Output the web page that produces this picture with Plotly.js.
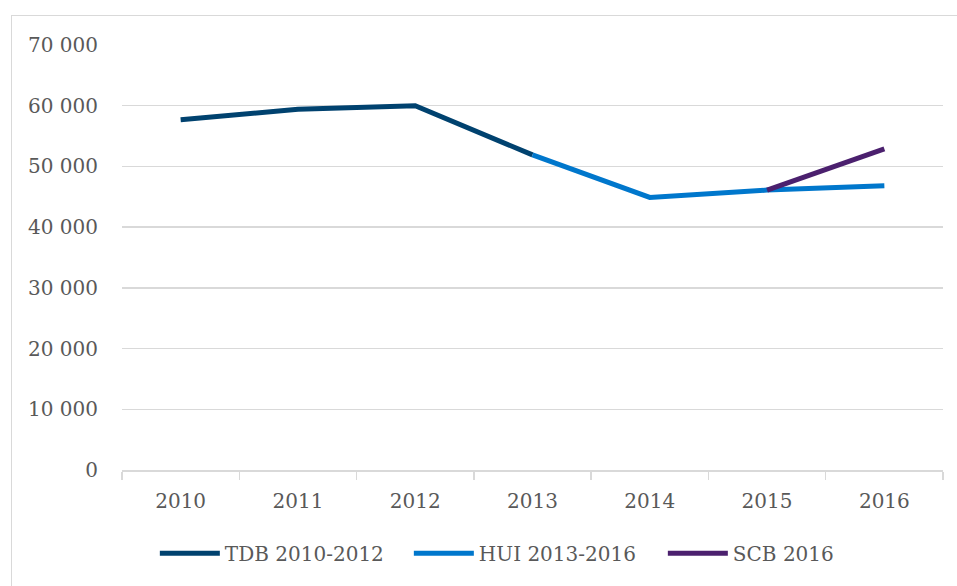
<!DOCTYPE html>
<html><head><meta charset="utf-8">
<script src="https://cdn.plot.ly/plotly-3.0.1.min.js"></script>
<style>
html,body{margin:0;padding:0;background:#fff;}
#wrap{position:relative;width:957px;height:586px;}
#chart{position:absolute;left:0;top:0;width:957px;height:586px;}
#frame{position:absolute;left:11px;top:15px;width:960px;height:600px;border:1.5px solid #d9d9d9;pointer-events:none;}
</style></head>
<body><div id="wrap"><div id="chart"></div><div id="frame"></div></div>
<script>
const years = ['2010','2011','2012','2013','2014','2015','2016'];
const tdbYears = ['2010','2011','2012','2013'];
const tdbValues = [57700, 59400, 60000, 51900];
const huiYears = ['2013','2014','2015','2016'];
const huiValues = [51900, 44900, 46100, 46800];
const scbYears = ['2015','2016'];
const scbValues = [46100, 52900];
const yTicks = [0,10000,20000,30000,40000,50000,60000,70000];

const font = {family:'"DejaVu Serif", "Liberation Serif", serif', size:20, color:'#595959'};
function tr(name, x, y, color){
  return {type:'scatter', mode:'lines', name:name, x:x, y:y,
    line:{color:color, width:5}, hoverinfo:'skip'};
}
const data = [
  tr('TDB 2010-2012', tdbYears, tdbValues, '#00426f'),
  tr('HUI 2013-2016', huiYears, huiValues, '#0077cc'),
  tr('SCB 2016', scbYears, scbValues, '#4b206e')
];
const layout = {
  width:957, height:586,
  margin:{l:122, r:14, t:45, b:116},
  paper_bgcolor:'rgba(0,0,0,0)', plot_bgcolor:'#fff',
  separators:', ',
  font:font,
  showlegend:true,
  xaxis:{type:'category', categoryorder:'array', categoryarray:years, tickvals:years,
    range:[-0.5,6.5], showgrid:false, showline:true, linecolor:'#d9d9d9', linewidth:1.5,
    ticks:'outside', tickson:'boundaries', ticklen:8, tickcolor:'#d9d9d9', tickwidth:1.5,
    ticklabelstandoff:12, tickfont:font, zeroline:false, fixedrange:true},
  yaxis:{range:[0,70000], tickvals:yTicks, tickformat:',d', showgrid:true, gridcolor:'#d9d9d9', gridwidth:1.5,
    zeroline:false, showline:false, ticks:'', ticklabelstandoff:23, tickfont:font, fixedrange:true},
  legend:{orientation:'h', x:0.04, xanchor:'left', y:-0.15, yanchor:'top',
    font:font, itemwidth:60, entrywidth:179, entrywidthmode:'pixels',
    bgcolor:'rgba(0,0,0,0)', traceorder:'normal'}
};
Plotly.newPlot('chart', data, layout, {staticPlot:true, displayModeBar:false});
</script></body></html>
